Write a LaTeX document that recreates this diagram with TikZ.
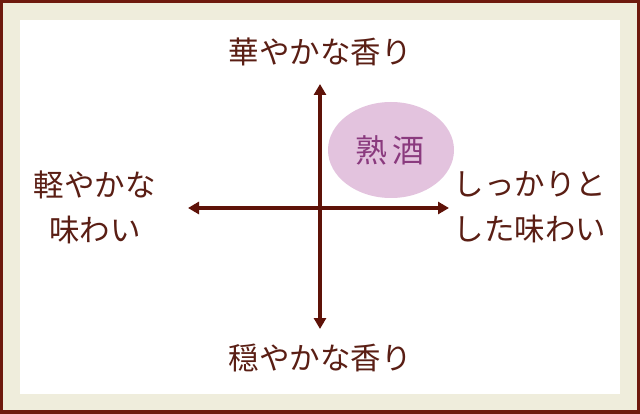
\documentclass[tikz,border=0pt]{standalone}
\usepackage{fontspec}
\newfontfamily\jp{Noto Sans CJK JP}
\usetikzlibrary{arrows.meta,shapes.geometric}
\definecolor{frame}{HTML}{6E1A0E}
\definecolor{cream}{HTML}{EFEDDC}
\definecolor{axis}{HTML}{5E1208}
\definecolor{txt}{HTML}{5A1E14}
\definecolor{ellfill}{HTML}{E3C3DE}
\definecolor{elltxt}{HTML}{8A3A7E}
\tikzset{
  lbl/.style={font=\jp\fontsize{30.5}{45}\selectfont, text=txt, align=center, inner sep=0pt},
  axisarrow/.style={draw=axis, line width=3.2pt, -{Triangle[length=11pt,width=12pt]}},
}
\begin{document}
\begin{tikzpicture}[x=1pt,y=-1pt]
\useasboundingbox (0,0) rectangle (640,414);
\fill[frame] (0,0) rectangle (640,414);
\fill[cream] (3,3) rectangle (637,410);
\fill[white] (20,20) rectangle (620,394);
\coordinate (c) at (320,208);
\coordinate (top) at (320,84);
\coordinate (bot) at (320,329);
\coordinate (lft) at (188,208);
\coordinate (rgt) at (449,208);
\draw[axisarrow] (c) -- (top);
\draw[axisarrow] (c) -- (bot);
\draw[axisarrow] (c) -- (lft);
\draw[axisarrow] (c) -- (rgt);
\node[ellipse, fill=ellfill, minimum width=126pt, minimum height=96pt] (ell) at (391,150) {};
\node[lbl, text=elltxt, font=\jp\fontsize{32}{36}\selectfont] (jukushu) at (390,150) {熟\hspace{6pt}酒};
\node[lbl] (t) at (320,52) {華やかな香り};
\node[lbl] (b) at (320,358) {穏やかな香り};
\node[lbl] (l) at (95,207) {軽やかな\\味わい};
\node[lbl] (r) at (530,207) {しっかりと\\した味わい};
\end{tikzpicture}
\end{document}
